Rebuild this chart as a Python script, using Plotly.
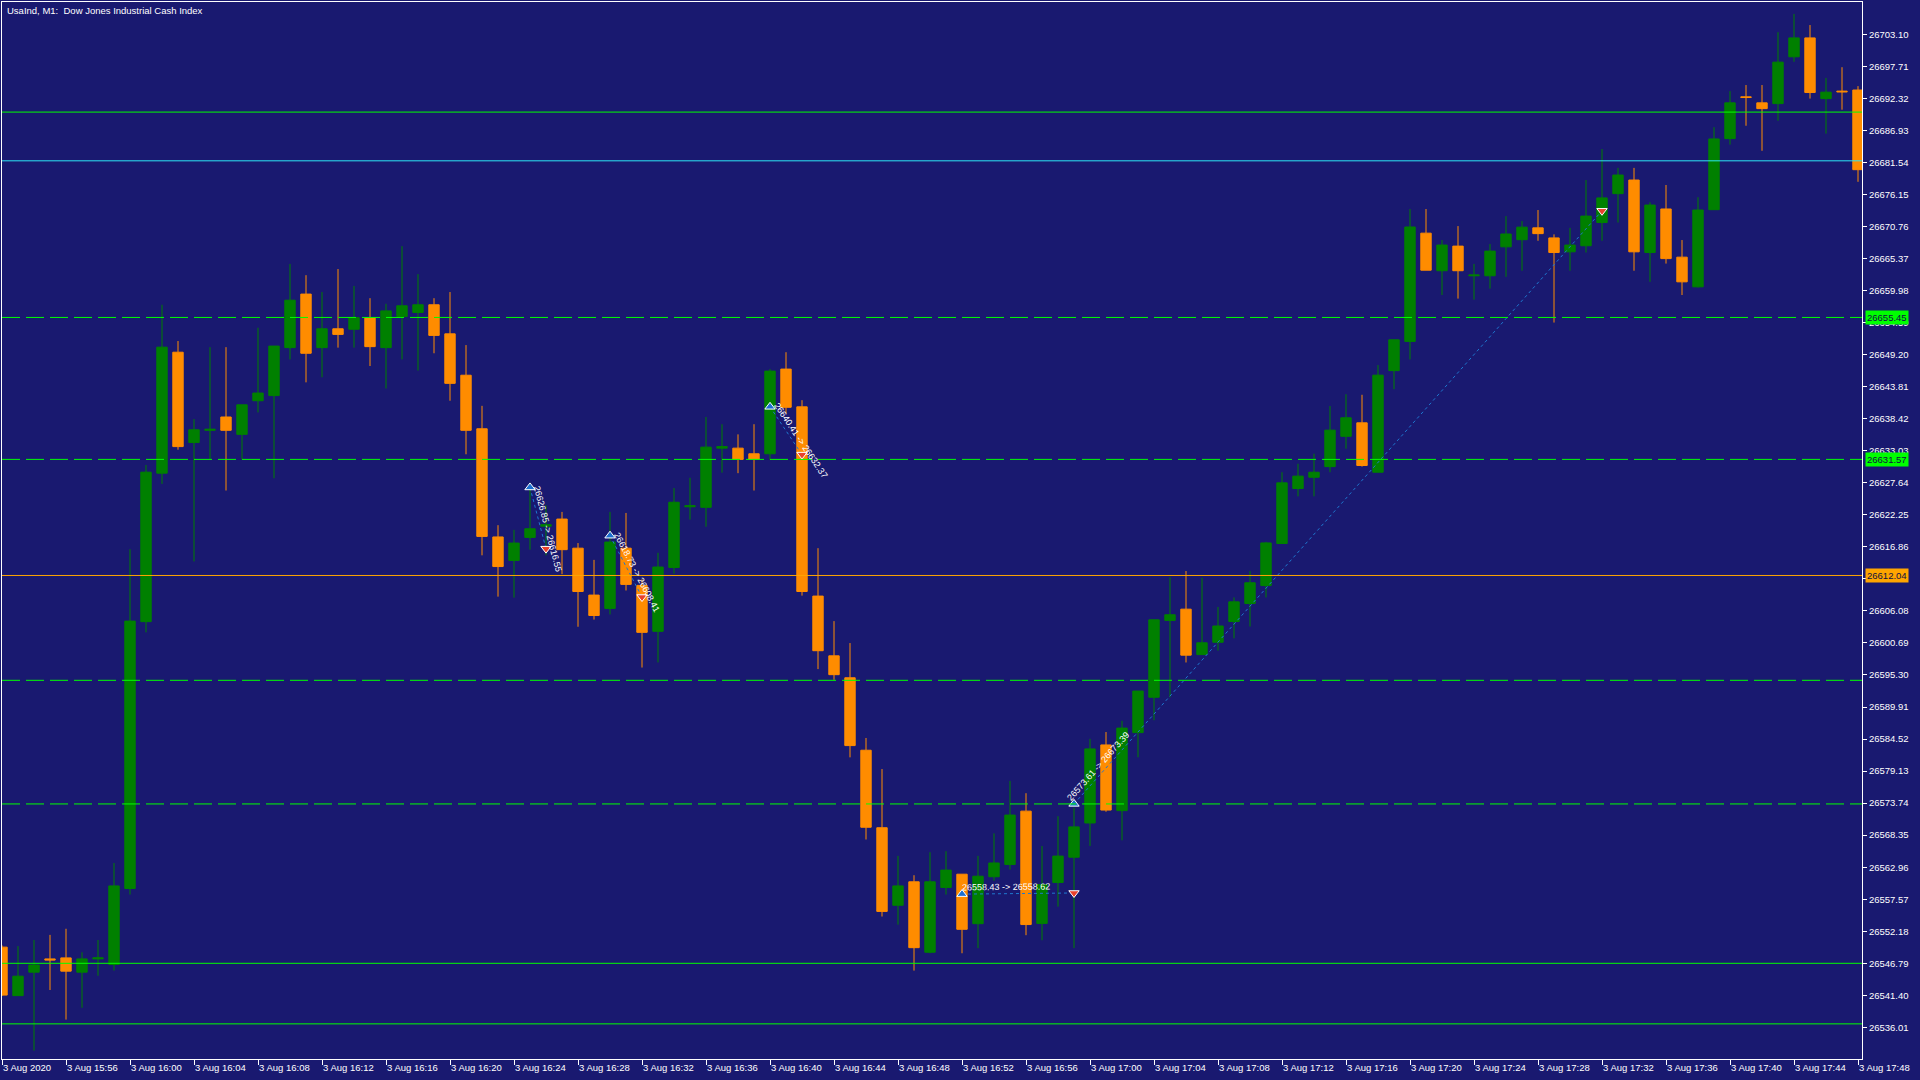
import math
import pandas as pd
import plotly.graph_objects as go

# ---------------- data ----------------
chart_title = "UsaInd, M1:\u00a0 Dow Jones Industrial Cash Index"
start_time = "2020-08-03 15:52"

opens = [26549.51, 26541.35, 26545.30, 26547.53, 26547.70, 26545.30, 26547.53, 26546.59, 26559.38, 26604.27,
         26629.25, 26649.60, 26634.40, 26636.46, 26638.70, 26635.78, 26641.44, 26642.30, 26650.37, 26659.38,
         26650.37, 26653.54, 26653.46, 26655.43, 26650.37, 26655.60, 26656.29, 26657.58, 26652.69, 26645.73,
         26636.72, 26618.52, 26614.57, 26618.44, 26620.33, 26621.53, 26616.63, 26608.74, 26606.50, 26616.63,
         26610.37, 26602.64, 26613.37, 26623.59, 26623.50, 26633.46, 26633.46, 26632.51, 26632.51, 26646.76,
         26640.41, 26608.57, 26598.52, 26594.83, 26582.64, 26569.60, 26556.55, 26560.50, 26548.65, 26559.55,
         26561.78, 26553.46, 26561.35, 26563.42, 26572.39, 26553.50, 26560.39, 26564.64, 26570.40, 26583.53,
         26572.48, 26585.60, 26591.55, 26604.48, 26606.37, 26598.73, 26600.80, 26604.29, 26607.32, 26610.34,
         26617.42, 26626.67, 26628.56, 26630.35, 26635.45, 26637.72, 26629.41, 26646.50, 26651.41, 26669.63,
         26663.31, 26667.45, 26662.46, 26662.46, 26667.33, 26668.53, 26670.52, 26668.83, 26666.49, 26667.51,
         26671.42, 26676.28, 26678.57, 26666.37, 26673.70, 26665.59, 26660.60, 26673.58, 26685.54, 26692.57,
         26691.55, 26691.43, 26699.30, 26702.48, 26692.27, 26693.53, 26693.71]
highs = [26549.80, 26549.68, 26550.71, 26551.57, 26552.60, 26548.65, 26550.71, 26563.67, 26616.46, 26630.63,
         26657.58, 26651.48, 26638.35, 26650.45, 26650.45, 26640.75, 26653.72, 26650.63, 26664.45, 26662.56,
         26659.72, 26663.59, 26660.75, 26658.69, 26657.75, 26667.45, 26662.73, 26658.69, 26659.72, 26650.80,
         26640.58, 26620.50, 26619.72, 26627.62, 26623.85, 26622.73, 26617.49, 26614.66, 26622.73, 26622.56,
         26611.40, 26615.86, 26626.76, 26628.48, 26638.70, 26637.49, 26635.78, 26637.49, 26646.76, 26649.60,
         26641.53, 26616.63, 26604.36, 26600.67, 26584.70, 26579.47, 26564.87, 26561.61, 26565.48, 26565.65,
         26561.78, 26564.87, 26568.65, 26577.48, 26575.41, 26566.53, 26571.54, 26572.95, 26584.56, 26585.70,
         26587.58, 26592.59, 26604.58, 26611.75, 26612.79, 26611.66, 26606.75, 26608.35, 26612.79, 26617.70,
         26629.41, 26630.83, 26632.53, 26640.55, 26642.53, 26642.44, 26647.44, 26651.69, 26673.69, 26673.69,
         26668.47, 26670.82, 26664.45, 26667.81, 26672.50, 26671.66, 26673.52, 26669.43, 26670.52, 26678.57,
         26683.79, 26680.61, 26680.61, 26674.84, 26677.73, 26668.47, 26675.68, 26687.46, 26693.53, 26694.55,
         26694.55, 26703.44, 26706.51, 26704.64, 26695.75, 26697.55, 26694.37]
lows = [26541.30, 26541.30, 26532.10, 26542.30, 26537.32, 26539.30, 26544.70, 26545.56, 26558.35, 26602.47,
        26627.45, 26633.20, 26614.40, 26631.57, 26626.33, 26631.57, 26639.47, 26628.39, 26648.39, 26644.53,
        26645.39, 26650.37, 26650.37, 26647.28, 26643.50, 26648.39, 26646.51, 26649.42, 26641.44, 26632.43,
        26615.43, 26608.48, 26608.31, 26616.38, 26615.43, 26612.26, 26603.41, 26604.62, 26605.48, 26609.51,
        26596.55, 26597.41, 26612.34, 26621.44, 26620.24, 26629.34, 26629.25, 26626.33, 26631.48, 26639.30,
        26608.65, 26596.29, 26594.49, 26581.44, 26567.62, 26554.66, 26553.29, 26545.56, 26548.48, 26558.35,
        26548.48, 26549.34, 26560.67, 26562.57, 26551.52, 26550.67, 26556.33, 26549.35, 26566.53, 26572.29,
        26567.48, 26581.45, 26587.68, 26591.55, 26597.40, 26598.73, 26599.39, 26601.46, 26603.45, 26608.35,
        26617.42, 26625.35, 26625.35, 26629.41, 26633.37, 26630.35, 26629.41, 26643.38, 26648.39, 26663.40,
        26659.22, 26658.62, 26658.44, 26660.30, 26662.28, 26663.31, 26668.35, 26654.59, 26663.31, 26666.37,
        26668.35, 26671.42, 26663.31, 26661.44, 26664.51, 26659.22, 26660.48, 26673.58, 26684.52, 26687.70,
        26683.49, 26688.54, 26698.46, 26692.27, 26686.38, 26690.40, 26678.27]
closes = [26541.44, 26544.62, 26546.50, 26547.36, 26545.47, 26547.53, 26547.70, 26559.81, 26604.36, 26629.42,
          26650.45, 26633.72, 26636.55, 26636.63, 26636.46, 26640.75, 26642.73, 26650.63, 26658.35, 26649.42,
          26653.54, 26652.60, 26655.43, 26650.54, 26656.55, 26657.41, 26657.58, 26652.43, 26644.36, 26636.46,
          26618.61, 26613.54, 26617.49, 26619.90, 26620.58, 26616.38, 26609.34, 26605.30, 26617.66, 26610.54,
          26602.47, 26613.46, 26624.36, 26623.76, 26633.63, 26633.72, 26631.57, 26631.57, 26646.42, 26640.33,
          26609.34, 26599.38, 26595.35, 26583.42, 26569.68, 26555.52, 26559.81, 26549.42, 26560.50, 26562.47,
          26552.51, 26561.44, 26563.67, 26571.73, 26553.31, 26560.02, 26564.83, 26569.74, 26582.86, 26572.57,
          26586.36, 26592.59, 26604.58, 26605.43, 26598.63, 26600.71, 26603.54, 26607.60, 26610.81, 26617.51,
          26627.62, 26628.75, 26629.41, 26636.49, 26638.57, 26630.54, 26645.74, 26651.69, 26670.67, 26663.40,
          26667.63, 26663.31, 26662.58, 26666.61, 26669.49, 26670.64, 26669.55, 26666.37, 26667.63, 26672.50,
          26675.56, 26679.41, 26666.49, 26674.36, 26665.35, 26661.44, 26673.52, 26685.48, 26691.55, 26692.45,
          26690.58, 26698.40, 26702.48, 26693.29, 26693.35, 26693.41, 26680.31]

ytick_labels = ["26703.10", "26697.71", "26692.32", "26686.93", "26681.54", "26676.15", "26670.76", "26665.37",
                "26659.98", "26654.59", "26649.20", "26643.81", "26638.42", "26633.03", "26627.64", "26622.25",
                "26616.86", "26611.47", "26606.08", "26600.69", "26595.30", "26589.91", "26584.52", "26579.13",
                "26573.74", "26568.35", "26562.96", "26557.57", "26552.18", "26546.79", "26541.40", "26536.01"]

# horizontal objects
solid_green_levels = [26690.00, 26546.79, 26536.60]
dashed_green_levels = [26655.45, 26631.57, 26594.40, 26573.60]
orange_level = 26612.04
cyan_level = 26681.80
labeled_levels = [26655.45, 26631.57, 26612.04]
labeled_colors = ["#00FF00", "#00FF00", "#FFA500"]

# trade history (bar index in the series, price)
trade_open_bar = [33, 38, 48, 60, 67]
trade_open_price = [26626.85, 26618.73, 26640.41, 26558.43, 26573.61]
trade_close_bar = [34, 40, 50, 67, 100]
trade_close_price = [26616.55, 26608.41, 26632.37, 26558.62, 26673.39]

# ---------------- style ----------------
BG = "#191970"
BULL = "#008000"
BEAR = "#FF8C00"
FONT = "Liberation Sans"
FS = 9.5
W, H = 1920, 1080
ML, MR, MT, MB = 2, 58, 2, 21
Y_MIN, Y_MAX = 26530.69, 26708.52

times = pd.date_range(start_time, periods=len(opens), freq="min")
x_end = times[-1] + pd.Timedelta(seconds=15)
xtick_vals = list(times[::4])
xtick_text = [("3 Aug 2020" if i == 0 else f"3 Aug {t:%H:%M}") for i, t in enumerate(xtick_vals)]

fig = go.Figure()
fig.add_trace(go.Candlestick(
    x=times, open=opens, high=highs, low=lows, close=closes,
    increasing=dict(line=dict(color=BULL, width=1), fillcolor=BULL),
    decreasing=dict(line=dict(color=BEAR, width=1), fillcolor=BEAR),
    whiskerwidth=0, hoverinfo="skip", showlegend=False,
))

# trade lines and markers
for ob, op, cb, cp in zip(trade_open_bar, trade_open_price, trade_close_bar, trade_close_price):
    fig.add_trace(go.Scatter(x=[times[ob], times[cb]], y=[op, cp], mode="lines",
                             line=dict(color="#1E78D0", width=1, dash="dot"),
                             hoverinfo="skip", showlegend=False))
fig.add_trace(go.Scatter(x=[times[b] for b in trade_open_bar], y=trade_open_price, mode="markers",
                         marker=dict(symbol="triangle-up", size=9, color="#1C6FD0",
                                     line=dict(color="white", width=1)),
                         hoverinfo="skip", showlegend=False))
fig.add_trace(go.Scatter(x=[times[b] for b in trade_close_bar], y=trade_close_price, mode="markers",
                         marker=dict(symbol="triangle-down", size=9, color="#E8412C",
                                     line=dict(color="white", width=1)),
                         hoverinfo="skip", showlegend=False))

# horizontal lines
shapes = []
for lv in solid_green_levels:
    shapes.append(dict(type="line", xref="paper", x0=0, x1=1, yref="y", y0=lv, y1=lv,
                       line=dict(color="#00FF00", width=1), layer="above"))
for lv in dashed_green_levels:
    shapes.append(dict(type="line", xref="paper", x0=0, x1=1, yref="y", y0=lv, y1=lv,
                       line=dict(color="#00FF00", width=1, dash="18px,6px"), layer="above"))
shapes.append(dict(type="line", xref="paper", x0=0, x1=1, yref="y", y0=orange_level, y1=orange_level,
                   line=dict(color="#FFA500", width=1), layer="above"))
shapes.append(dict(type="line", xref="paper", x0=0, x1=1, yref="y", y0=cyan_level, y1=cyan_level,
                   line=dict(color="#2EE6F5", width=1), layer="above"))

annotations = []
# chart title
annotations.append(dict(xref="paper", yref="paper", x=0, y=1, xanchor="left", yanchor="top",
                        xshift=3, yshift=-1, text=chart_title, showarrow=False,
                        font=dict(family=FONT, size=FS, color="white")))
# price labels on the axis
for lv, col in zip(labeled_levels, labeled_colors):
    annotations.append(dict(xref="paper", yref="y", x=1, y=lv, xanchor="left", yanchor="middle",
                            xshift=3, text=f"{lv:.2f}", showarrow=False, bgcolor=col, borderpad=1,
                            font=dict(family=FONT, size=FS, color="#101040")))

# trade labels along their lines
plot_w = W - ML - MR
plot_h = H - MT - MB
px_per_min = plot_w / ((x_end - times[0]).total_seconds() / 60.0)
px_per_pt = plot_h / (Y_MAX - Y_MIN)
for ob, op, cb, cp in zip(trade_open_bar, trade_open_price, trade_close_bar, trade_close_price):
    label = f"{op:.2f} -> {cp:.2f}"
    dx = (cb - ob) * px_per_min
    dy = -(cp - op) * px_per_pt
    L = math.hypot(dx, dy)
    ux, uy = dx / L, dy / L
    half = len(label) * 4.45 / 2
    cx = ux * half + uy * 7
    cy = uy * half - ux * 7
    annotations.append(dict(xref="x", yref="y", x=times[ob], y=op, xanchor="center", yanchor="middle",
                            xshift=cx, yshift=-cy, textangle=math.degrees(math.atan2(dy, dx)),
                            text=label, showarrow=False,
                            font=dict(family=FONT, size=9, color="white")))

fig.update_layout(
    width=W, height=H, margin=dict(l=ML, r=MR, t=MT, b=MB, pad=0),
    paper_bgcolor=BG, plot_bgcolor=BG, showlegend=False,
    font=dict(family=FONT, size=FS, color="white"),
    boxgap=0.35, boxgroupgap=0.0,
    shapes=shapes, annotations=annotations,
    xaxis=dict(type="date", range=[times[0], x_end], rangeslider=dict(visible=False),
               showgrid=False, zeroline=False, showline=True, linecolor="white", linewidth=1, mirror=True,
               ticks="outside", ticklen=5, tickcolor="white", tickwidth=1,
               tickmode="array", tickvals=xtick_vals, ticktext=xtick_text,
               ticklabelposition="outside right",
               tickfont=dict(family=FONT, size=FS, color="white")),
    yaxis=dict(side="right", range=[Y_MIN, Y_MAX], showgrid=False, zeroline=False,
               showline=True, linecolor="white", linewidth=1, mirror=True,
               ticks="outside", ticklen=4, tickcolor="white", tickwidth=1,
               tickmode="array", tickvals=[float(s) for s in ytick_labels], ticktext=ytick_labels,
               tickfont=dict(family=FONT, size=FS, color="white")),
)

fig.write_html(
    "out.html",
    config={"displayModeBar": False},
    post_script="document.body.style.margin='0';document.body.style.background='" + BG + "';",
)
